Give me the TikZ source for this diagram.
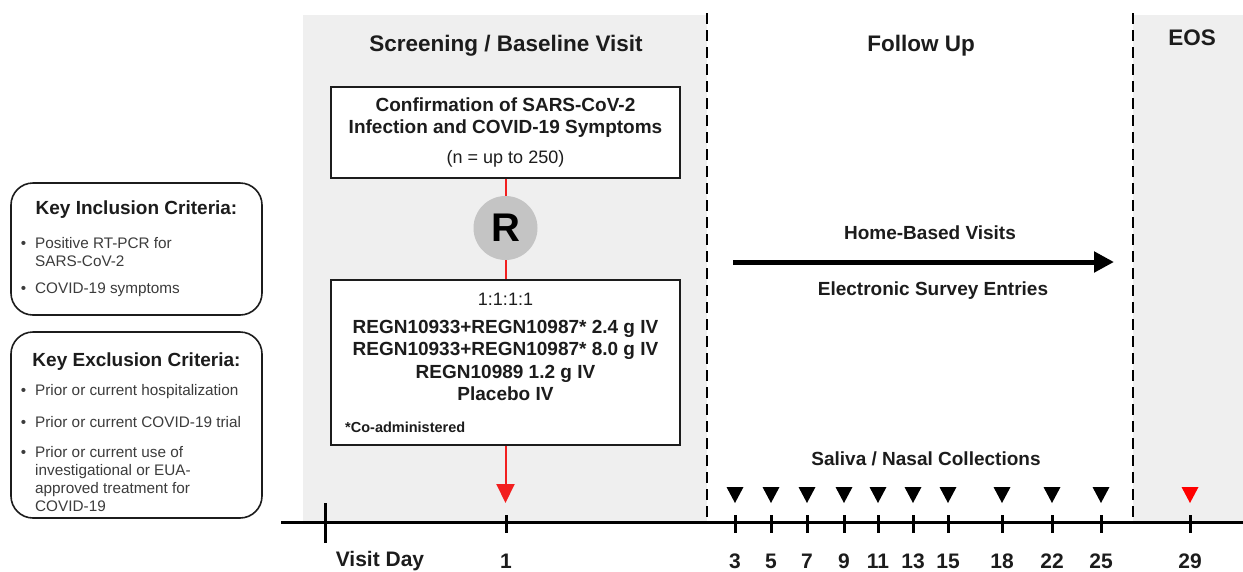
\documentclass[tikz,border=0pt]{standalone}
\usepackage{fontspec}
\setmainfont{Liberation Sans}
\usetikzlibrary{arrows.meta}
\definecolor{bgfill}{HTML}{EFEFEF}
\definecolor{rgray}{HTML}{C4C4C4}
\definecolor{ink}{HTML}{1C1C1C}
\definecolor{note}{HTML}{3C3C3C}
\definecolor{flag}{HTML}{F21F1F}

\begin{document}
\begin{tikzpicture}
		[x=1pt, y=-1pt,
		box/.style ={rectangle, draw=ink, line width=2pt, fill=white, minimum width=349pt, inner sep=0pt},
		boxtext/.style ={align=center, text=ink, inner sep=0pt, font=\fontsize{19}{22.5}\selectfont\bfseries},
		crit/.style ={rectangle, draw=ink, line width=1.6pt, rounded corners=22pt, fill=white, minimum width=251pt, inner sep=0pt},
		crithead/.style ={text=ink, inner sep=0pt, font=\fontsize{19}{22}\selectfont\bfseries},
		crititem/.style ={anchor=west, align=left, text=note, inner sep=0pt, font=\fontsize{15.3}{18}\selectfont},
		phase/.style ={text=ink, inner sep=0pt, font=\fontsize{22.5}{26}\selectfont\bfseries},
		daynum/.style ={text=ink, inner sep=0pt, font=\fontsize{21}{24}\selectfont\bfseries},
		rnd/.style ={circle, fill=rgray, minimum size=64pt, inner sep=0pt, font=\fontsize{40}{40}\selectfont\bfseries},
		link/.style ={color=flag, line width=2pt},
		sep/.style ={line width=2.8pt, dash pattern=on 11pt off 6pt},
		axis/.style ={line width=3pt},
		tickmark/.style ={line width=3pt},
		sample/.pic ={\fill (-8.5,-8) -- (8.5,-8) -- (0,8) -- cycle;},
		]
		\useasboundingbox (0,0) rectangle (1243,571);

		% phase backgrounds and separators
		\fill[bgfill] (303,15) rectangle (707,522);
		\fill[bgfill] (1133,15) rectangle (1243,522);
		\draw[sep] (707,13) -- (707,522);
		\draw[sep] (1133,13) -- (1133,522);

		\draw (506,46) node[phase] (P1) {Screening / Baseline Visit};
		\draw (921,46) node[phase] (P2) {Follow Up};
		\draw (1192,38) node[phase] (P3) {EOS};

		% criteria
		\draw (136.5,249) node[crit, minimum height=132pt] (INC) {};
		\draw (136.5,210) node[crithead] (INCH) {Key Inclusion Criteria:};
		\draw (35,252) node[crititem] (INC1) {\leavevmode\llap{\textbullet\hspace{9pt}}Positive RT-PCR for\\SARS-CoV-2};
		\draw (35,290) node[crititem] (INC2) {\leavevmode\llap{\textbullet\hspace{9pt}}COVID-19 symptoms};

		\draw (136.5,425) node[crit, minimum height=186pt] (EXC) {};
		\draw (136.5,362) node[crithead] (EXCH) {Key Exclusion Criteria:};
		\draw (35,392) node[crititem] (EXC1) {\leavevmode\llap{\textbullet\hspace{9pt}}Prior or current hospitalization};
		\draw (35,422) node[crititem] (EXC2) {\leavevmode\llap{\textbullet\hspace{9pt}}Prior or current COVID-19 trial};
		\draw (35,479) node[crititem] (EXC3) {\leavevmode\llap{\textbullet\hspace{9pt}}Prior or current use of\\investigational or EUA-\\approved treatment for\\COVID-19};

		% screening column
		\draw (505.5,132.5) node[box, minimum height=91pt] (CONF) {};
		\draw (505.5,132) node[boxtext] (CONFT) {Confirmation of SARS-CoV-2\\Infection and COVID-19 Symptoms\\[7pt]{\fontsize{18}{21}\selectfont\mdseries (n = up to 250)}};
		\draw (505.5,228) node[rnd] (R) {R};
		\draw (505.5,362.5) node[box, minimum height=165pt] (ARM) {};
		\draw (505.5,347) node[boxtext] (ARMT) {{\fontsize{18}{21}\selectfont\mdseries 1:1:1:1}\\[5pt]REGN10933+REGN10987* 2.4 g IV\\REGN10933+REGN10987* 8.0 g IV\\REGN10989 1.2 g IV\\Placebo IV};
		\draw (345,427) node[boxtext, anchor=west, font=\fontsize{14.5}{17}\selectfont\bfseries] (COAD) {*Co-administered};
		\coordinate (DOSE) at (505.5,503);

		\draw[link] (CONF) -- (R);
		\draw[link] (R) -- (ARM);
		\draw[link, -{Triangle[width=18pt,length=19pt]}] (ARM) -- (DOSE);

		% follow up
		\draw (930,233) node[boxtext] (HOME) {Home-Based Visits};
		\draw (933,291) node[boxtext] (SURV) {Electronic Survey Entries};
		\coordinate (HB0) at (733,262);
		\coordinate (HB1) at (1114,262);
		\draw[line width=5pt, -{Triangle[width=20pt,length=20pt]}] (HB0) -- (HB1);
		\draw (926,459) node[boxtext] (SAL) {Saliva / Nasal Collections};

		% timeline
		\coordinate (AX0) at (281,522);
		\coordinate (AX1) at (1243,522);
		\draw[axis] (AX0) -- (AX1);
		\draw[tickmark] (325,503) -- (325,543);
		\draw (380,561) node[daynum] (VD) {Visit Day};

		\draw (506,561) node[daynum] (N1) {1};
		\draw (735,561) node[daynum] (N3) {3};
		\draw (771,561) node[daynum] (N5) {5};
		\draw (807,561) node[daynum] (N7) {7};
		\draw (844,561) node[daynum] (N9) {9};
		\draw (878,561) node[daynum] (N11) {11};
		\draw (913,561) node[daynum] (N13) {13};
		\draw (948,561) node[daynum] (N15) {15};
		\draw (1002,561) node[daynum] (N18) {18};
		\draw (1052,561) node[daynum] (N22) {22};
		\draw (1101,561) node[daynum] (N25) {25};
		\draw (1190,561) node[daynum] (N29) {29};

		\draw[tickmark]
		(506,515) -- (506,533)
		(735,515) -- (735,533)
		(771,515) -- (771,533)
		(807,515) -- (807,533)
		(844,515) -- (844,533)
		(878,515) -- (878,533)
		(913,515) -- (913,533)
		(948,515) -- (948,533)
		(1002,515) -- (1002,533)
		(1052,515) -- (1052,533)
		(1101,515) -- (1101,533)
		(1190,515) -- (1190,533);

		\pic (S3) at (735,495) {sample};
		\pic (S5) at (771,495) {sample};
		\pic (S7) at (807,495) {sample};
		\pic (S9) at (844,495) {sample};
		\pic (S11) at (878,495) {sample};
		\pic (S13) at (913,495) {sample};
		\pic (S15) at (948,495) {sample};
		\pic (S18) at (1002,495) {sample};
		\pic (S22) at (1052,495) {sample};
		\pic (S25) at (1101,495) {sample};
		\pic[red] (S29) at (1190,495) {sample};

	\end{tikzpicture}
\end{document}
